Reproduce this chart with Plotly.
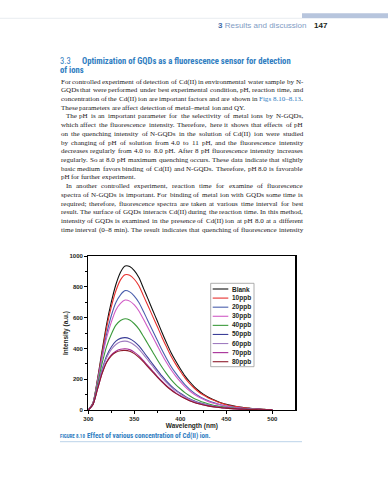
import plotly.graph_objects as go

W_PX, H_PX = 388, 480

# ---------------- chart data ----------------
wavelength = [300, 305, 310, 315, 320, 325, 330, 335, 340, 345, 350, 355, 360, 365, 370,
              375, 380, 385, 390, 395, 400, 405, 410, 415, 420, 425, 430, 435, 440, 445,
              450, 455, 460, 465, 470, 475, 480, 485, 490, 495, 500]

blank = [0, 45, 200, 385, 560, 700, 815, 895, 935, 932, 905, 860, 790, 720, 648,
         578, 505, 437, 372, 318, 268, 222, 185, 152, 125, 103, 85, 70, 57, 46,
         37, 30, 24, 19, 15, 12, 9, 7, 5, 3, 2]
ppb10 = [0, 44, 194, 370, 537, 669, 774, 845, 878, 875, 849, 807, 741, 676, 608,
         542, 473, 410, 349, 298, 252, 209, 173, 143, 117, 97, 80, 66, 54, 43,
         34, 28, 23, 18, 14, 11, 9, 6, 4, 3, 2]
ppb20 = [0, 43, 186, 349, 496, 612, 698, 748, 775, 767, 740, 698, 639, 577, 515,
         453, 391, 335, 283, 239, 200, 165, 136, 111, 91, 74, 61, 50, 41, 33,
         26, 21, 16, 13, 10, 8, 6, 5, 3, 2, 2]
ppb30 = [0, 41, 179, 336, 471, 571, 650, 693, 714, 707, 682, 643, 589, 532, 475,
         418, 361, 308, 261, 220, 184, 152, 125, 102, 84, 69, 56, 46, 38, 31,
         24, 19, 15, 12, 9, 7, 6, 4, 3, 2, 1]
ppb40 = [0, 39, 166, 302, 415, 492, 551, 581, 593, 584, 560, 525, 477, 427, 377,
         326, 279, 236, 197, 165, 138, 113, 93, 75, 62, 50, 41, 33, 27, 22,
         18, 14, 11, 9, 7, 5, 4, 3, 2, 2, 1]
ppb50 = [0, 35, 146, 263, 353, 409, 447, 465, 470, 463, 444, 416, 378, 338, 298,
         259, 221, 187, 157, 131, 109, 90, 73, 60, 49, 40, 32, 26, 22, 17,
         14, 11, 9, 7, 6, 4, 3, 2, 2, 1, 1]
ppb60 = [0, 35, 143, 255, 340, 393, 425, 443, 447, 440, 422, 396, 360, 322, 284,
         246, 210, 178, 149, 124, 104, 85, 70, 57, 46, 38, 31, 25, 21, 17,
         13, 11, 8, 7, 5, 4, 3, 2, 2, 1, 1]
ppb70 = [0, 34, 135, 239, 314, 358, 382, 394, 398, 392, 376, 352, 320, 287, 253,
         219, 187, 158, 133, 111, 92, 76, 62, 51, 41, 34, 27, 22, 18, 15,
         12, 10, 8, 6, 5, 4, 3, 2, 2, 1, 1]
ppb80 = [0, 34, 135, 236, 310, 352, 375, 385, 387, 381, 366, 342, 312, 279, 246,
         213, 182, 154, 129, 108, 90, 74, 60, 49, 40, 33, 27, 22, 18, 14,
         12, 9, 7, 6, 5, 3, 3, 2, 2, 1, 1]

series_names = ["Blank", "10ppb", "20ppb", "30ppb", "40ppb", "50ppb", "60ppb", "70ppb", "80ppb"]
series_values = [blank, ppb10, ppb20, ppb30, ppb40, ppb50, ppb60, ppb70, ppb80]
series_colors = ["#111111", "#e8312f", "#4b5fad", "#d05bc5", "#3c9a3c",
                 "#3c3f98", "#9f7cc0", "#a52a96", "#8e1b2b"]

x_ticks = [300, 350, 400, 450, 500]
x_minor = [325, 375, 425, 475]
y_ticks = [0, 200, 400, 600, 800, 1000]
y_minor = [100, 300, 500, 700, 900]

# ---------------- page text ----------------
header_section = "Results and discussion"
header_num = "3"
page_number = "147"
heading_num = "3.3"
heading_line1 = "Optimization of GQDs as a fluorescence sensor for detection"
heading_line2 = "of ions"
caption_label = "FIGURE 8.10"
caption_text = "Effect of various concentration of Cd(II) ion."

body_lines = [
    "For controlled experiment of detection of Cd(II) in environmental water sample by N-",
    "GQDs that were performed under best experimental condition, pH, reaction time, and",
    "concentration of the Cd(II) ion are important factors and are shown in Figs 8.10–8.13.",
    "These parameters are affect detection of metal–metal ion and QY.",
    "The pH is an important parameter for the selectivity of metal ions by N-GQDs,",
    "which affect the fluorescence intensity. Therefore, here it shows that effects of pH",
    "on the quenching intensity of N-GQDs in the solution of Cd(II) ion were studied",
    "by changing of pH of solution from 4.0 to 11 pH, and the fluorescence intensity",
    "decreases regularly from 4.0 to 8.0 pH. After 8 pH fluorescence intensity increases",
    "regularly. So at 8.0 pH maximum quenching occurs. These data indicate that slightly",
    "basic medium favors binding of Cd(II) and N-GQDs. Therefore, pH 8.0 is favorable",
    "pH for further experiment.",
    "In another controlled experiment, reaction time for examine of fluorescence",
    "spectra of N-GQDs is important. For binding of metal ion with GQDs some time is",
    "required; therefore, fluorescence spectra are taken at various time interval for best",
    "result. The surface of GQDs interacts Cd(II) during the reaction time. In this method,",
    "intensity of GQDs is examined in the presence of Cd(II) ion at pH 8.0 at a different",
    "time interval (0–8 min). The result indicates that quenching of fluorescence intensity",
]
indented_lines = {4, 12}
ragged_lines = {3, 11}
blue_words = {"Figs", "8.10–8.13."}

# Times / Liberation Serif advance widths (1/1000 em)
TW = {' ': 250, '(': 333, ')': 333, ',': 250, '-': 333, '.': 250, ':': 278, ';': 278,
      '–': 500, '0': 500, '1': 500, '2': 500, '3': 500, '4': 500, '5': 500, '6': 500,
      '7': 500, '8': 500, '9': 500,
      'A': 722, 'B': 667, 'C': 667, 'D': 722, 'E': 611, 'F': 556, 'G': 722, 'H': 722,
      'I': 333, 'J': 389, 'K': 722, 'L': 611, 'M': 889, 'N': 722, 'O': 722, 'P': 556,
      'Q': 722, 'R': 667, 'S': 556, 'T': 611, 'U': 722, 'V': 722, 'W': 944, 'X': 722,
      'Y': 722, 'Z': 611,
      'a': 444, 'b': 500, 'c': 444, 'd': 500, 'e': 444, 'f': 333, 'g': 500, 'h': 500,
      'i': 278, 'j': 278, 'k': 500, 'l': 278, 'm': 778, 'n': 500, 'o': 500, 'p': 500,
      'q': 500, 'r': 333, 's': 389, 't': 278, 'u': 500, 'v': 500, 'w': 722, 'x': 500,
      'y': 500, 'z': 444}


def tw(s):
    return sum(TW.get(c, 500) for c in s) / 1000.0


def px(x):
    return x / W_PX


def py(y):
    return 1 - y / H_PX


# ---------------- layout geometry (pixels) ----------------
PLOT_L, PLOT_R, PLOT_T, PLOT_B = 88.3, 295.3, 256.0, 410.0
TEXT_L, TEXT_R = 60.5, 303.0
LINE0_Y, LINE_STEP = 81.7, 8.7
INDENT_PX = 5.0

fig = go.Figure()
for name, vals, col in zip(series_names, series_values, series_colors):
    fig.add_trace(go.Scatter(x=wavelength, y=vals, mode="lines", name=name,
                             line=dict(color=col, width=1.1, shape="spline", smoothing=0.7),
                             showlegend=False, hoverinfo="skip"))

annotations = []
shapes = []

# --- body text (justified, word by word) ---
fs_candidates = []
for i, line in enumerate(body_lines):
    if i in ragged_lines:
        continue
    avail = TEXT_R - TEXT_L - (INDENT_PX if i in indented_lines else 0)
    fs_candidates.append(avail / tw(line))
FS = min(fs_candidates)

for i, line in enumerate(body_lines):
    words = line.split(" ")
    x0 = TEXT_L + (INDENT_PX if i in indented_lines else 0)
    widths = [tw(w) * FS for w in words]
    if i in ragged_lines or len(words) == 1:
        gap = tw(" ") * FS
    else:
        gap = (TEXT_R - x0 - sum(widths)) / (len(words) - 1)
    y = LINE0_Y + i * LINE_STEP
    xc = x0
    for w, wd in zip(words, widths):
        txt = w
        col = "#1c1a1b"
        if w in blue_words:
            col = "#2f7dc1"
            if w.endswith("."):
                txt = w[:-1] + "<span style='color:#1c1a1b'>.</span>"
        annotations.append(dict(x=px(xc), y=py(y), xref="paper", yref="paper", text=txt,
                                showarrow=False, xanchor="left", yanchor="middle",
                                borderpad=0, borderwidth=0,
                                font=dict(family="Liberation Serif", size=FS, color=col)))
        xc += wd + gap

# --- header ---
annotations.append(dict(x=px(218), y=py(25), xref="paper", yref="paper",
                        text="<b>" + header_num + "</b> <span style='color:#7f9cc4'>" + header_section + "</span>",
                        showarrow=False, xanchor="left", yanchor="middle", borderpad=0, borderwidth=0,
                        font=dict(family="Liberation Sans", size=8, color="#3f6aa8")))
annotations.append(dict(x=px(314), y=py(25), xref="paper", yref="paper", text="<b>" + page_number + "</b>",
                        showarrow=False, xanchor="left", yanchor="middle", borderpad=0, borderwidth=0,
                        font=dict(family="Liberation Sans", size=8, color="#231f20")))
shapes.append(dict(type="rect", xref="paper", yref="paper", x0=px(302), x1=1.0,
                   y0=py(18.3), y1=py(13.3), fillcolor="#b7c5dd", line=dict(width=0), layer="below"))
shapes.append(dict(type="line", xref="paper", yref="paper", x0=0, x1=px(302),
                   y0=py(18.3), y1=py(18.3), line=dict(color="#dfe4ea", width=0.7)))

# --- section heading ---
HEAD_FONT = dict(family="Liberation Sans Narrow, Arial Narrow, Roboto Condensed, Liberation Sans",
                 size=8.65, color="#2f7dc1", weight="bold")
annotations.append(dict(x=px(60), y=py(61), xref="paper", yref="paper", text=heading_num,
                        showarrow=False, xanchor="left", yanchor="middle", borderpad=0, borderwidth=0,
                        font=dict(HEAD_FONT, weight="normal")))
annotations.append(dict(x=px(81.7), y=py(61), xref="paper", yref="paper", text=heading_line1,
                        showarrow=False, xanchor="left", yanchor="middle", borderpad=0, borderwidth=0,
                        font=HEAD_FONT))
annotations.append(dict(x=px(60), y=py(70.3), xref="paper", yref="paper", text=heading_line2,
                        showarrow=False, xanchor="left", yanchor="middle", borderpad=0, borderwidth=0,
                        font=HEAD_FONT))

# --- caption ---
CAP_FONT = "Liberation Sans Narrow, Arial Narrow, Roboto Condensed, Liberation Sans"
annotations.append(dict(x=px(60), y=py(435.7), xref="paper", yref="paper", text=caption_label,
                        showarrow=False, xanchor="left", yanchor="middle", borderpad=0, borderwidth=0,
                        font=dict(family=CAP_FONT, size=5.0, color="#2f7dc1", weight="bold")))
annotations.append(dict(x=px(86.7), y=py(435.7), xref="paper", yref="paper", text=caption_text,
                        showarrow=False, xanchor="left", yanchor="middle", borderpad=0, borderwidth=0,
                        font=dict(family=CAP_FONT, size=7.0, color="#2f7dc1", weight="bold")))
shapes.append(dict(type="line", xref="paper", yref="paper", x0=px(60), x1=px(302),
                   y0=py(441.7), y1=py(441.7), line=dict(color="#a9c7e2", width=0.8)))

# --- custom legend ---
LEG_L, LEG_R, LEG_T, LEG_B = 210.7, 254.0, 283.3, 366.7
LEG_Y0, LEG_STEP = 289.0, 9.09
shapes.append(dict(type="rect", xref="paper", yref="paper", x0=px(LEG_L), x1=px(LEG_R),
                   y0=py(LEG_B), y1=py(LEG_T), fillcolor="white",
                   line=dict(color="#9a9a9a", width=0.8)))
for k, (name, col) in enumerate(zip(series_names, series_colors)):
    yy = LEG_Y0 + k * LEG_STEP
    shapes.append(dict(type="line", xref="paper", yref="paper", x0=px(212.7), x1=px(228.3),
                       y0=py(yy), y1=py(yy), line=dict(color=col, width=1.1)))
    annotations.append(dict(x=px(231.5), y=py(yy), xref="paper", yref="paper", text=name,
                            showarrow=False, xanchor="left", yanchor="middle", borderpad=0, borderwidth=0,
                            font=dict(family="Liberation Sans", size=6.5, color="#231f20", weight="bold")))

axis_common = dict(showline=True, linecolor="black", linewidth=1.2, mirror=True,
                   showgrid=False, zeroline=False, ticks="outside", ticklen=3, tickwidth=1,
                   tickcolor="black", automargin=False,
                   tickfont=dict(family="Liberation Sans", size=6, color="#231f20", weight="bold"))

fig.update_layout(
    width=W_PX, height=H_PX, autosize=False,
    margin=dict(l=0, r=0, t=0, b=0),
    paper_bgcolor="white", plot_bgcolor="white",
    showlegend=False,
    hovermode=False,
    xaxis=dict(axis_common, domain=[px(PLOT_L), px(PLOT_R)], range=[300, 525],
               tickmode="array", tickvals=x_ticks, ticktext=[str(v) for v in x_ticks],
               minor=dict(tickmode="array", tickvals=x_minor, ticks="outside", ticklen=2,
                          tickcolor="black"),
               title=dict(text="Wavelength (nm)", standoff=2,
                          font=dict(family="Liberation Sans", size=6.5, color="#231f20",
                                    weight="bold"))),
    yaxis=dict(axis_common, domain=[py(PLOT_B), py(PLOT_T)], range=[0, 1000],
               tickmode="array", tickvals=y_ticks, ticktext=[str(v) for v in y_ticks],
               minor=dict(tickmode="array", tickvals=y_minor, ticks="outside", ticklen=2,
                          tickcolor="black"),
               title=dict(text="Intensity (a.u.)", standoff=0,
                          font=dict(family="Liberation Sans", size=6.5, color="#231f20",
                                    weight="bold"))),
    annotations=annotations,
    shapes=shapes,
)

fig.write_html("out.html",
               config={"displayModeBar": False, "staticPlot": True},
               post_script="document.body.style.margin='0';document.body.style.overflow='hidden';")
